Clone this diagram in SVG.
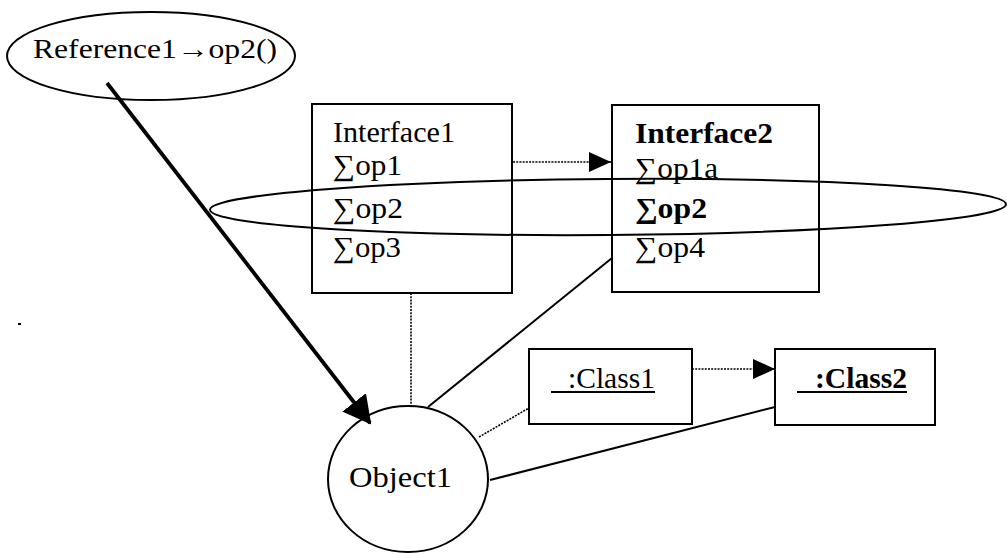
<svg xmlns="http://www.w3.org/2000/svg" width="1007" height="554" viewBox="0 0 1007 554">
  <style>
    .shape { fill: #fff; stroke: #000; stroke-width: 2; }
    .outline { fill: none; stroke: #000; stroke-width: 2; }
    .t { font-family: "Liberation Serif", "Times New Roman", serif; font-size: 29px; fill: #000; }
    .b { font-weight: bold; }
    .solid { stroke: #000; stroke-width: 2; fill: none; }
    .dotted { stroke: #000; stroke-width: 1.6; stroke-dasharray: 2 1.2; fill: none; }
    .thick { stroke: #000; stroke-width: 3.8; fill: none; }
    .ul { stroke: #000; stroke-width: 2; }
  </style>
  <defs>
    <marker id="tri" viewBox="0 0 22 20" refX="22" refY="10" markerWidth="22" markerHeight="20" markerUnits="userSpaceOnUse" orient="auto">
      <path d="M0,0 L22,10 L0,20 Z" fill="#000"/>
    </marker>
    <marker id="triBig" viewBox="0 0 28 30" refX="26" refY="15" markerWidth="28" markerHeight="30" markerUnits="userSpaceOnUse" orient="auto">
      <path d="M0,0 L28,15 L0,30 Z" fill="#000"/>
    </marker>
  </defs>

  <g id="reference1">
    <ellipse class="outline" cx="151" cy="56" rx="144" ry="44"/>
    <text class="t" x="33" y="58" style="font-size:27px" textLength="244" lengthAdjust="spacingAndGlyphs">Reference1→op2()</text>
  </g>

  <g id="interface1">
    <rect class="shape" x="312" y="104" width="200" height="189"/>
    <text class="t" x="333" y="142" textLength="122" lengthAdjust="spacingAndGlyphs">Interface1</text>
    <text class="t" x="333" y="175" textLength="69" lengthAdjust="spacingAndGlyphs">∑op1</text>
    <text class="t" x="333" y="218" textLength="70" lengthAdjust="spacingAndGlyphs">∑op2</text>
    <text class="t" x="333" y="257" textLength="68" lengthAdjust="spacingAndGlyphs">∑op3</text>
  </g>

  <g id="interface2">
    <rect class="shape" x="612" y="105" width="207" height="187"/>
    <text class="t b" x="635" y="143" textLength="138" lengthAdjust="spacingAndGlyphs">Interface2</text>
    <text class="t" x="635" y="178" textLength="83" lengthAdjust="spacingAndGlyphs">∑op1a</text>
    <text class="t b" x="635" y="218" textLength="72" lengthAdjust="spacingAndGlyphs">∑op2</text>
    <text class="t" x="635" y="257" textLength="70" lengthAdjust="spacingAndGlyphs">∑op4</text>
  </g>

  <g id="op2-group">
    <ellipse class="outline" cx="608" cy="207" rx="398" ry="28" transform="rotate(-0.4 608 207)"/>
  </g>

  <g id="class1">
    <rect class="shape" x="529" y="349" width="163" height="75"/>
    <text class="t" x="568" y="388" textLength="87" lengthAdjust="spacingAndGlyphs">:Class1</text>
    <line class="ul" x1="551" y1="392" x2="655" y2="392"/>
  </g>

  <g id="class2">
    <rect class="shape" x="775" y="349" width="160" height="76"/>
    <text class="t b" x="815" y="388" textLength="92" lengthAdjust="spacingAndGlyphs">:Class2</text>
    <line class="ul" x1="797" y1="392" x2="907" y2="392"/>
  </g>

  <g id="object1">
    <ellipse class="shape" cx="408" cy="479" rx="80" ry="73"/>
    <text class="t" x="349" y="487" textLength="103" lengthAdjust="spacingAndGlyphs">Object1</text>
  </g>

  <g id="connectors">
    <line class="thick" x1="107" y1="83" x2="370" y2="423" marker-end="url(#triBig)"/>
    <line class="dotted" x1="513" y1="162" x2="611" y2="162" marker-end="url(#tri)"/>
    <line class="dotted" x1="692" y1="369" x2="775" y2="369" marker-end="url(#tri)"/>
    <line class="dotted" x1="411" y1="293" x2="411" y2="406"/>
    <line class="solid" x1="428" y1="407" x2="612" y2="258"/>
    <line class="dotted" x1="479" y1="437" x2="529" y2="408"/>
    <line class="solid" x1="490" y1="480" x2="775" y2="407"/>
  </g>

  <rect x="18" y="323" width="3" height="2" fill="#000"/>
</svg>
